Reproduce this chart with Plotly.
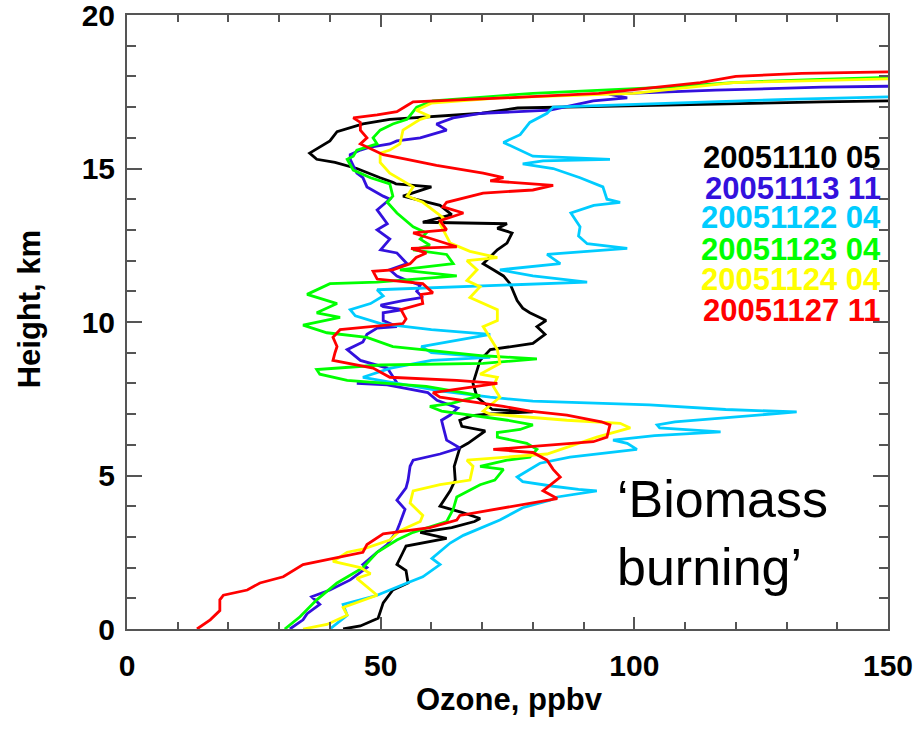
import plotly.graph_objects as go

# Ozone profiles: (ozone ppbv, height km)
black_profile = [(42.6, 0), (46, 0.1), (49.5, 0.35), (50.5, 0.85), (52.4, 1.27), (55.4, 1.5), (55, 1.9), (53.2, 2.1),
                 (54.4, 2.5), (55, 2.7), (63, 2.95), (57.8, 3.15), (64, 3.3), (68.5, 3.5), (69.6, 3.6), (66, 3.8),
                 (61.7, 4.0), (63.7, 4.5), (64.7, 4.85), (64.5, 5.3), (65.6, 5.9), (67.2, 6.05), (70.6, 6.45),
                 (66, 6.6), (65.6, 6.8), (68, 6.95), (71, 7.0), (80, 7.07), (72, 7.15), (69, 7.55), (68.2, 8.0),
                 (69, 8.4), (69.6, 8.75), (71.6, 9.1), (80, 9.3), (82.4, 9.6), (80.8, 9.85), (82.6, 10.05),
                 (79.4, 10.3), (78, 10.45), (76.9, 10.7), (75.5, 11.25), (74.2, 11.5), (72.2, 11.7), (70.2, 11.9),
                 (73, 12.35), (74.9, 12.57), (75.9, 12.9), (73, 13.05), (74.9, 13.2), (58.3, 13.25), (64, 13.5),
                 (61.7, 13.8), (54.4, 14.1), (60, 14.4), (53, 14.5), (52.4, 14.55), (49.9, 14.7), (45.3, 15.0),
                 (41, 15.2), (37.4, 15.3), (36, 15.5), (38, 15.7), (40, 15.9), (41.4, 16.2), (46.5, 16.45),
                 (51.8, 16.6), (60, 16.7), (70, 16.8), (77, 16.97), (100, 17.05), (120, 17.13), (137, 17.17),
                 (150, 17.2)]

blue_profile = [(32.1, 0), (34.7, 0.3), (35.5, 0.5), (38, 0.8), (36.4, 1.05), (40, 1.27), (44, 1.6), (47.3, 2.0),
                (46.5, 2.1), (49.3, 2.5), (51.3, 2.75), (53.2, 3.2), (53.8, 3.45), (54.8, 3.9), (53.2, 4.2),
                (55, 4.6), (55.4, 4.85), (55.8, 5.3), (56.4, 5.5), (61.7, 5.7), (65.6, 5.9), (63, 6.15),
                (62.3, 6.6), (62, 6.8), (63.7, 6.97), (65.2, 7.2), (61.1, 7.45), (59.3, 7.7), (51.3, 7.95),
                (45.3, 8.0), (53.2, 8.02), (51.3, 8.5), (46, 8.75), (43.4, 9.1), (46.5, 9.35), (47.3, 9.6),
                (49.3, 9.8), (53.2, 9.85), (50.5, 10.05), (50.5, 10.3), (54.4, 10.4), (50.5, 10.5), (50, 10.55),
                (54.4, 10.7), (58.3, 10.8), (57.1, 11.0), (57.8, 11.2), (55.2, 11.35), (53.2, 11.5), (51.8, 11.7),
                (55.2, 11.9), (53.2, 12.25), (50, 12.35), (51.8, 12.7), (49.3, 13.0), (51.3, 13.2), (49.3, 13.65),
                (51.8, 14.0), (50.5, 14.1), (47.3, 14.4), (46.5, 14.7), (45.3, 14.85), (44, 15.3), (44, 15.45),
                (46, 15.6), (48, 15.7), (51.8, 15.8), (53.2, 15.9), (57.8, 16.0), (63, 16.25), (61, 16.45),
                (64.3, 16.65), (70, 16.8), (83.4, 16.9), (91.9, 17.2), (98.6, 17.3), (95, 17.42), (116, 17.55),
                (137, 17.65), (150, 17.68)]

cyan_profile = [(40, 0), (43.4, 0.45), (42.6, 0.8), (49.3, 1.1), (55.2, 1.5), (58.3, 1.7), (61.7, 2.1), (60.1, 2.3),
                (63.7, 2.8), (66.3, 3.05), (73.5, 3.55), (78, 3.95), (83.4, 4.2), (84.8, 4.3), (92.6, 4.5),
                (89, 4.55), (84, 4.65), (78, 4.8), (76.9, 4.95), (81.4, 5.4), (87.3, 5.6), (100.5, 5.85),
                (98.6, 6.05), (95.8, 6.15), (104, 6.3), (117, 6.42), (105, 6.55), (104.5, 6.65), (108, 6.75),
                (132, 7.07), (118, 7.15), (103, 7.3), (80, 7.42), (71.6, 7.55), (62, 7.75), (55, 7.95),
                (46.5, 8.2), (52, 8.5), (60, 8.75), (71.6, 8.85), (60, 9.0), (58, 9.2), (65, 9.4), (71.6, 9.6),
                (60, 9.75), (50, 9.95), (45, 10.2), (44, 10.4), (48, 10.6), (50.5, 10.85), (49.3, 11.05),
                (65, 11.15), (90.7, 11.3), (80, 11.5), (73.5, 11.7), (85.4, 11.9), (82.8, 12.2), (98.6, 12.4),
                (90.7, 12.55), (89, 12.8), (89.3, 13.1), (87.5, 13.55), (92, 13.8), (97.2, 13.9), (94.6, 14.0),
                (93.8, 14.4), (89.3, 14.7), (84, 15.0), (78, 15.15), (82, 15.25), (95.2, 15.3), (80, 15.4),
                (78, 15.55), (74.2, 15.85), (77.5, 16.1), (79.4, 16.5), (82.8, 16.8), (84, 17.0), (107.6, 17.13),
                (130, 17.25), (150, 17.33)]

green_profile = [(31.1, 0), (34.1, 0.4), (37.4, 0.95), (41.4, 1.5), (46.5, 2.0), (49.3, 2.5), (53.2, 2.9),
                 (56.4, 3.15), (63, 3.5), (64.3, 3.9), (65, 4.3), (69.6, 4.7), (72.5, 4.85), (74.2, 5.2),
                 (69.6, 5.3), (74.9, 5.5), (79.4, 5.6), (80.8, 5.85), (78.8, 6.05), (73, 6.25), (73, 6.4),
                 (77.5, 6.5), (80, 6.65), (75, 6.8), (62, 7.1), (59.7, 7.25), (64, 7.35), (69.6, 7.6), (59, 7.9),
                 (43.4, 8.1), (38, 8.3), (37.4, 8.45), (50, 8.6), (70.2, 8.65), (80.8, 8.8), (70.2, 8.9),
                 (52.4, 9.2), (47.3, 9.5), (39.4, 9.65), (34.7, 9.9), (42, 10.15), (37.4, 10.3), (41.4, 10.6),
                 (35.5, 10.9), (40, 11.25), (49.3, 11.3), (65, 11.5), (53.8, 11.7), (64.3, 11.9), (63, 12.2),
                 (56.4, 12.35), (59.7, 12.5), (57.8, 12.7), (59, 12.9), (56.4, 13.1), (53.2, 13.55), (51.3, 13.9),
                 (52.4, 14.1), (51.8, 14.5), (48, 14.7), (44.6, 14.95), (43.4, 15.3), (44.6, 15.4), (45.3, 15.6),
                 (49.3, 15.8), (48.5, 16.0), (49.9, 16.25), (52.4, 16.45), (55.2, 16.6), (56.4, 16.85),
                 (57.1, 17.0), (60.3, 17.2), (80, 17.45), (106.4, 17.65), (119.5, 17.8), (136.6, 17.9),
                 (150, 17.97)]

yellow_profile = [(34.7, 0), (39.4, 0.15), (43.4, 0.45), (42.6, 0.7), (49.3, 1.1), (46.5, 1.5), (45.3, 1.65),
                  (48, 1.8), (46, 2.0), (40.6, 2.2), (43.4, 2.5), (46.5, 2.6), (51.8, 2.9), (53.8, 3.2),
                  (57.8, 3.5), (58.3, 3.7), (55.8, 4.1), (56.4, 4.5), (61.7, 4.7), (67.6, 4.85), (68.2, 5.3),
                  (67, 5.5), (74.2, 5.6), (82.8, 5.7), (92.6, 6.25), (99.2, 6.55), (97.2, 6.7), (86.7, 6.8),
                  (71.6, 7.0), (70.2, 7.1), (73.5, 7.55), (72.2, 7.9), (73, 8.2), (69.6, 8.3), (73.5, 8.65),
                  (73, 9.1), (70.2, 9.85), (73, 10.05), (73, 10.4), (67.6, 10.8), (69.6, 11.15), (67, 11.35),
                  (69, 11.7), (67, 12.0), (73, 12.1), (67.6, 12.3), (63.7, 12.57), (61.7, 13.2), (62.3, 13.4),
                  (58.3, 13.9), (55.2, 14.1), (56.4, 14.4), (51.8, 14.85), (49.9, 15.2), (49.9, 15.5),
                  (51.8, 15.6), (53.8, 15.8), (54.4, 16.25), (57.8, 16.6), (59.7, 16.7), (57, 16.9), (60, 17.13),
                  (73.5, 17.3), (99.8, 17.45), (119.5, 17.8), (136.6, 17.88), (150, 17.92)]

red_profile = [(13.8, 0), (16.4, 0.3), (18.3, 0.6), (18.3, 0.95), (19, 1.1), (23.7, 1.27), (26.2, 1.5),
               (30.8, 1.7), (34.7, 2.1), (40.6, 2.3), (46.5, 2.5), (47.3, 2.75), (50.5, 3.1), (59.7, 3.3),
               (65, 3.55), (65.6, 3.7), (69, 3.8), (79.4, 4.1), (84.8, 4.25), (82, 4.5), (85.4, 4.95), (84, 5.2),
               (82.8, 5.5), (80, 5.75), (72.2, 5.85), (91.9, 6.1), (94.6, 6.25), (95.2, 6.65), (93.5, 6.75),
               (86.7, 6.97), (79.4, 7.1), (74.2, 7.25), (61.7, 7.55), (60.3, 7.7), (73, 8.0), (65, 8.1),
               (51.8, 8.2), (48.5, 8.5), (40.6, 8.75), (41, 9.0), (41.4, 9.2), (40.6, 9.5), (42, 9.75),
               (54.4, 9.95), (55, 10.1), (54, 10.4), (58.3, 10.6), (58, 10.9), (60.3, 10.95), (58.3, 11.25),
               (49.3, 11.4), (48.5, 11.65), (52.4, 11.7), (55.8, 11.9), (57, 12.1), (59, 12.25), (56, 12.4),
               (65, 12.45), (60, 12.7), (56.4, 12.9), (63, 13.0), (61.7, 13.3), (66.3, 13.55), (62.3, 13.75),
               (63, 13.9), (70.2, 14.2), (80, 14.3), (84, 14.45), (71.6, 14.6), (74.2, 14.7), (70.2, 14.85),
               (61, 15.1), (55.2, 15.3), (50.5, 15.45), (47.3, 15.7), (46, 15.8), (47.3, 16.0), (46, 16.25),
               (46, 16.5), (44.6, 16.65), (49.3, 16.75), (53.2, 16.85), (55.2, 17.05), (56.4, 17.17),
               (78.8, 17.33), (93, 17.45), (113, 17.8), (120, 18.0), (133, 18.1), (150, 18.15)]

series_labels = ["20051110 05", "20051113 11", "20051122 04", "20051123 04", "20051124 04", "20051127 11"]
series_colors = ["#000000", "#3311DD", "#00CCFF", "#00FF00", "#FFFF00", "#FF0000"]
label_heights = [15.37, 14.36, 13.39, 12.35, 11.37, 10.39]
profiles = [black_profile, blue_profile, cyan_profile, green_profile, yellow_profile, red_profile]

x_ticks = [0, 50, 100, 150]
y_ticks = [0, 5, 10, 15, 20]

fig = go.Figure()
for prof, col, name in zip(profiles, series_colors, series_labels):
    fig.add_trace(go.Scatter(x=[p[0] for p in prof], y=[p[1] for p in prof], mode="lines",
                             line=dict(color=col, width=2.8), name=name))

axis_col = "#555555"
tickfont = dict(family="Liberation Sans", size=30, color="black", weight="bold")
fig.update_xaxes(range=[0, 150], tickvals=x_ticks, ticks="inside", ticklen=12, tickwidth=2, tickcolor=axis_col,
                 showline=True, linecolor=axis_col, linewidth=2, mirror="ticks", showgrid=False, zeroline=False,
                 minor=dict(dtick=10, ticks="inside", ticklen=7, tickwidth=2, tickcolor=axis_col, showgrid=False),
                 tickfont=tickfont, ticklabelstandoff=9, ticklabeloverflow="allow", automargin=False)
fig.update_yaxes(range=[0, 20.0001], tickvals=y_ticks, ticks="inside", ticklen=15, tickwidth=2, tickcolor=axis_col,
                 showline=True, linecolor=axis_col, linewidth=2, mirror="ticks", showgrid=False, zeroline=False,
                 minor=dict(dtick=1, ticks="inside", ticklen=9, tickwidth=2, tickcolor=axis_col, showgrid=False),
                 tickfont=tickfont, ticklabelstandoff=4, ticklabeloverflow="allow", automargin=False)

annotations = []
for lab, col, h in zip(series_labels, series_colors, label_heights):
    annotations.append(dict(x=149, y=h, xref="x", yref="y", text=lab, showarrow=False, xanchor="right",
                            yanchor="middle", font=dict(family="Liberation Sans", size=31, color=col, weight="bold")))
annotations.append(dict(x=96.2, y=3.13, xref="x", yref="y", text="\u2018Biomass<br>burning\u2019", showarrow=False,
                        xanchor="left", yanchor="middle", align="left",
                        font=dict(family="Liberation Sans", size=52, color="black")))
annotations.append(dict(x=0.503, y=-0.1156, xref="paper", yref="paper", text="Ozone, ppbv", showarrow=False,
                        xanchor="center", yanchor="middle",
                        font=dict(family="Liberation Sans", size=31, color="black", weight="bold")))
annotations.append(dict(x=-0.128, y=0.52, xref="paper", yref="paper", text="Height, km", showarrow=False,
                        textangle=-90, xanchor="center", yanchor="middle",
                        font=dict(family="Liberation Sans", size=31, color="black", weight="bold")))

fig.update_layout(width=921, height=729, margin=dict(l=127, r=33, t=15, b=100, autoexpand=False),
                  plot_bgcolor="white", paper_bgcolor="white", showlegend=False, annotations=annotations)
fig.write_html("out.html")
